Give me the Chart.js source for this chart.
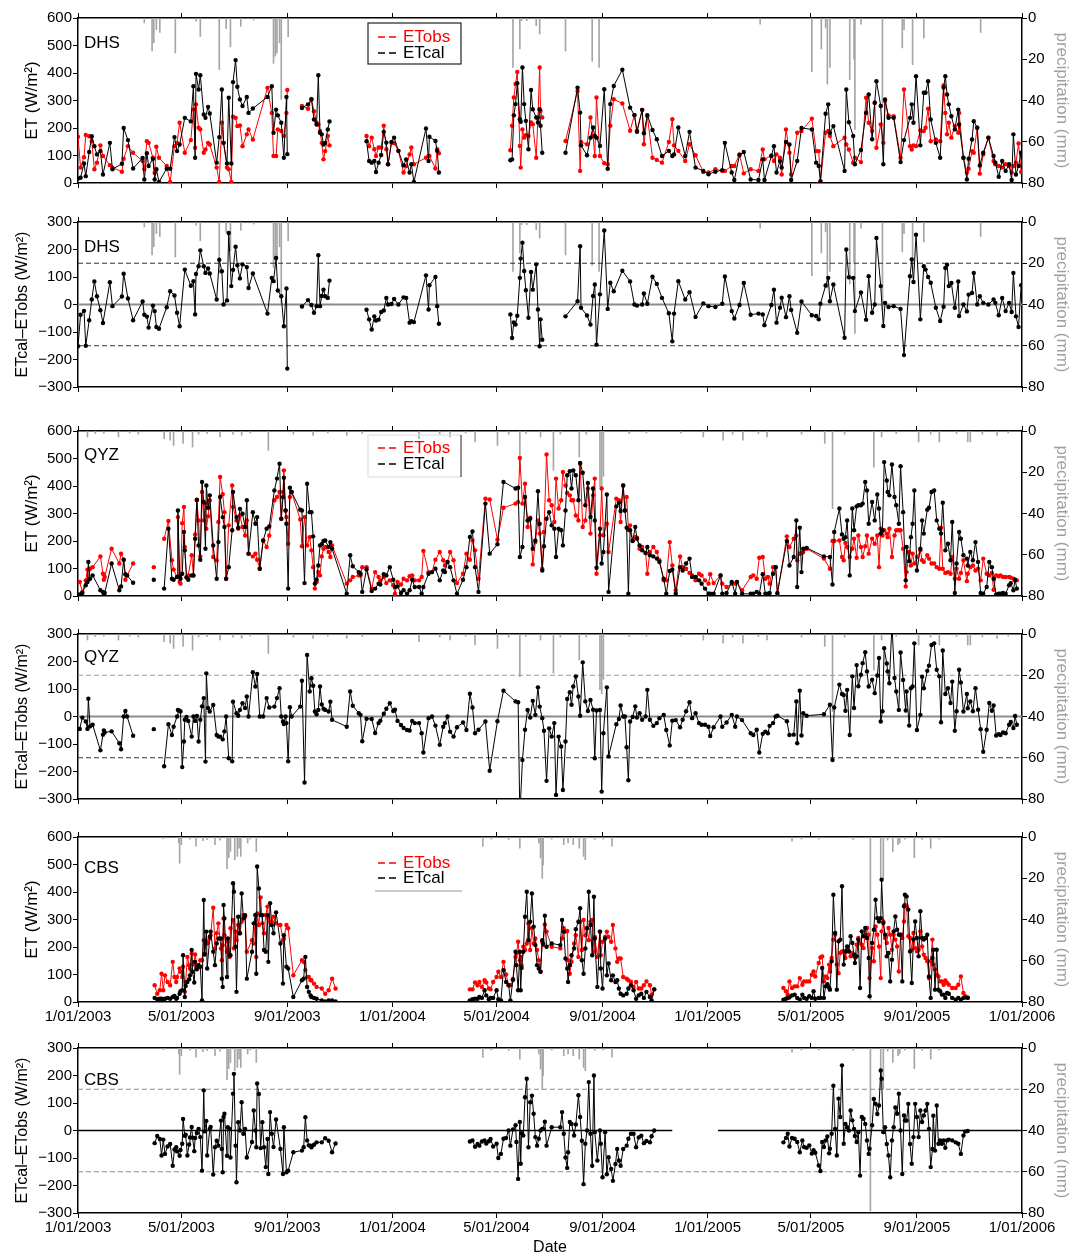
<!DOCTYPE html>
<html lang="en">
<head>
  <meta charset="UTF-8">
  <title>ETobs / ETcal - DHS, QYZ, CBS</title>
  <script src="https://cdn.jsdelivr.net/npm/chart.js"></script>
  <style>
    body { margin: 0; background: #fff; }
    #page { position: relative; width: 1072px; height: 1255px; background: #fff; overflow: hidden; }
    #page canvas { position: absolute; left: 0; }
  </style>
</head>
<body>
  <div id="page"></div>
  <script>
    // x axis: days since 1/01/2003
    const DATE_TICKS = [0, 120, 243, 365, 486, 609, 731, 851, 974, 1096];
    const DATE_LABELS = ['1/01/2003', '5/01/2003', '9/01/2003', '1/01/2004', '5/01/2004',
                         '9/01/2004', '1/01/2005', '5/01/2005', '9/01/2005', '1/01/2006'];
    const LEGEND_LABELS = ['ETobs', 'ETcal'];

    // DHS
    const dhsDays = [
      0, 3, 7, 9, 13, 16, 19, 22, 26, 29,
      37, 40, 51, 53, 58, 64, 75, 77, 80, 82,
      87, 89, 91, 94, 103, 107, 112, 115, 118, 124,
      131, 134, 136, 137, 140, 142, 146, 148, 151, 153,
      161, 164, 167, 169, 173, 175, 178, 180, 183, 185,
      188, 191, 196, 198, 203, 220, 225, 227, 230, 232,
      236, 239, 242, 243, 250, 260, 267, 271, 274, 277,
      279, 281, 283, 285, 287, 290, 292, 315, 335, 338,
      341, 344, 346, 349, 352, 355, 358, 360, 364, 367,
      372, 378, 381, 385, 387, 390, 404, 407, 408, 415,
      417, 419, 460, 502, 504, 506, 508, 510, 513, 514,
      516, 518, 520, 523, 526, 528, 532, 534, 536, 537,
      539, 552, 566, 580, 583, 584, 591, 595, 598, 600,
      602, 606, 611, 615, 618, 622, 632, 641, 646, 649,
      655, 657, 661, 667, 672, 678, 686, 690, 692, 697,
      705, 710, 717, 726, 732, 740, 748, 751, 759, 762,
      768, 773, 781, 790, 795, 797, 805, 808, 811, 815,
      817, 822, 826, 828, 835, 840, 852, 857, 860, 862,
      868, 871, 873, 877, 890, 892, 895, 900, 902, 909,
      915, 918, 922, 925, 927, 932, 935, 937, 941, 947,
      955, 959, 966, 968, 970, 973, 978, 982, 984, 987,
      990, 996, 1001, 1005, 1007, 1009, 1011, 1014, 1018, 1022,
      1023, 1028, 1032, 1034, 1038, 1040, 1044, 1047, 1051, 1057,
      1063, 1065, 1069, 1073, 1077, 1081, 1084, 1086, 1089, 1092,
      1095
    ];
    const dhsObs = [
      168, 56, 94, 175, 170, 152, 50, 74, 137, 98,
      65, 56, 41, 88, 134, 110, 80, 50, 152, 146,
      92, 37, 132, 92, 62, 4, 134, 146, 219, 110,
      156, 267, 128, 286, 201, 195, 110, 122, 146, 140,
      56, 4, 219, 146, 56, 50, 4, 241, 237, 207,
      209, 134, 177, 195, 158, 346, 255, 98, 98, 195,
      189, 171, 255, 338, null, 280, 270, 306, 261, 219,
      213, 189, 146, 86, 116, 171, 137, null, 171, 134,
      165, 123, 98, 129, 129, 208, 123, 68, 147, 145,
      117, 38, 62, 104, 129, 68, 92, 98, 98, 53,
      123, 108, null, 119, 208, 311, 360, 404, 135, 56,
      195, 165, 174, 171, 220, 214, 92, 238, 420, 262,
      238, null, 153, 335, 44, 149, 141, 238, 171, 98,
      311, 98, 72, 68, 208, 305, 289, 190, 247, 190,
      266, 141, 244, 92, 84, 74, 149, 232, 137, 117,
      80, 141, 101, 40, 38, 50, 44, 44, 62, 62,
      104, 35, 50, 44, 122, 86, 100, 80, 104, 92,
      31, 195, 110, 31, 183, 189, 234, 116, 116, 4,
      183, 189, 171, 134, 165, 140, 122, 74, 92, 76,
      310, 219, 189, 292, 128, 213, 146, 298, 246, 243,
      92, 340, 134, 122, 137, 134, 191, 189, 201, 270,
      152, 158, 152, 355, 255, 177, 219, 165, 207, 183,
      255, 92, 38, 52, 116, 110, 201, 34, 104, 165,
      80, 68, 62, 56, 68, 62, 38, 62, 74, 144,
      40
    ];
    const dhsCal = [
      16, 19, 71, 25, 113, 170, 134, 104, 116, 31,
      146, 50, 70, 200, 156, 53, 91, 13, 108, 62,
      88, 13, 50, 4, 52, 52, 167, 116, 140, 237,
      224, 352, 92, 397, 340, 392, 249, 237, 277, 253,
      74, 167, 340, 146, 71, 310, 71, 367, 447, 350,
      304, 280, 313, 255, 271, 313, 352, 183, 267, 246,
      219, 92, 313, 105, null, 273, 286, 304, 231, 213,
      392, 183, 177, 140, 146, 195, 224, null, 152, 80,
      74, 80, 40, 74, 102, 186, 147, 68, 149, 165,
      117, 64, 86, 38, 68, 4, 198, 80, 168, 153,
      117, 38, null, 83, 86, 246, 287, 363, 232, 223,
      420, 287, 226, 123, 338, 268, 238, 220, 268, 208,
      110, null, 110, 347, 256, 137, 101, 165, 202, 171,
      165, 135, 341, 52, 287, 353, 412, 274, 247, 186,
      266, 181, 247, 193, 159, 98, 117, 98, 104, 202,
      98, 186, 56, 44, 32, 41, 47, 146, 38, 11,
      102, 113, 13, 11, 86, 11, 98, 134, 38, 80,
      56, 149, 140, 11, 80, 200, 195, 74, 62, 7,
      252, 286, 183, 207, 44, 340, 221, 171, 68, 120,
      255, 322, 159, 292, 370, 280, 68, 304, 237, 237,
      76, 156, 237, 286, 219, 388, 137, 328, 328, 370,
      231, 146, 92, 347, 388, 322, 286, 243, 195, 267,
      213, 92, 13, 88, 158, 225, 201, 64, 110, 165,
      98, 74, 23, 80, 44, 68, 11, 177, 31, 62,
      110
    ];
    const dhsRainDays = [77, 86, 88, 91, 95, 113, 137, 142, 164, 172, 177, 189, 204, 227, 229,
      231, 234, 236, 244, 505, 513, 515, 521, 532, 536, 566, 597, 605, 792, 852,
      863, 868, 870, 873, 896, 901, 902, 909, 934, 957, 959, 969, 982, 1048];
    const dhsRain = [2.4, 16, 12, 5.6, 7, 17, 1.5, 9, 25, 5, 14, 4, 1, 22, 18.5,
      17, 12, 39.5, 9, 24, 15, 1.3, 1.3, 3.7, 7.8, 16, 21, 24, 3, 26,
      15, 4.8, 32, 24, 30, 20, 54, 3, 43, 14.5, 5.6, 22.6, 9.7, 7];

    // QYZ
    const qyzDays = [
      2, 5, 9, 11, 12, 14, 17, 26, 29, 30,
      31, 39, 48, 50, 53, 55, 57, 64, 75, 88,
      94, 100, 105, 109, 111, 115, 116, 118, 119, 121,
      123, 124, 126, 128, 132, 134, 136, 138, 140, 142,
      144, 146, 148, 149, 151, 153, 157, 161, 163, 165,
      168, 170, 172, 175, 179, 180, 184, 186, 188, 191,
      194, 196, 198, 203, 206, 208, 211, 215, 219, 222,
      228, 231, 234, 236, 238, 239, 241, 242, 244, 246,
      248, 258, 260, 263, 266, 269, 271, 273, 275, 277,
      279, 281, 283, 285, 287, 291, 293, 295, 312, 316,
      319, 326, 328, 330, 335, 341, 345, 349, 351, 355,
      358, 362, 366, 368, 371, 375, 378, 382, 385, 388,
      391, 396, 399, 401, 407, 411, 415, 420, 424, 426,
      429, 432, 436, 440, 447, 451, 455, 458, 461, 465,
      473, 478, 487, 494, 508, 511, 513, 516, 519, 522,
      525, 528, 531, 534, 536, 539, 541, 544, 547, 550,
      553, 555, 558, 561, 563, 566, 568, 571, 573, 575,
      578, 581, 583, 586, 589, 592, 595, 598, 600, 602,
      606, 608, 610, 614, 616, 625, 628, 630, 633, 635,
      637, 639, 641, 644, 647, 649, 652, 655, 659, 661,
      664, 668, 672, 675, 680, 683, 687, 690, 694, 699,
      702, 706, 710, 713, 717, 721, 724, 728, 732, 734,
      738, 746, 748, 753, 759, 763, 765, 771, 781, 784,
      788, 791, 795, 798, 801, 803, 807, 810, 812, 823,
      826, 831, 834, 835, 838, 840, 842, 846, 866, 873,
      876, 878, 884, 887, 889, 891, 893, 896, 899, 901,
      904, 906, 909, 911, 914, 916, 918, 922, 925, 928,
      930, 932, 934, 936, 939, 940, 942, 945, 948, 950,
      953, 955, 958, 961, 962, 965, 967, 969, 971, 974,
      978, 980, 982, 986, 988, 991, 994, 997, 1000, 1002,
      1004, 1007, 1010, 1013, 1015, 1018, 1020, 1023, 1025, 1028,
      1032, 1033, 1036, 1039, 1042, 1045, 1048, 1051, 1055, 1058,
      1061, 1063, 1066, 1069, 1071, 1074, 1077, 1081, 1083, 1086,
      1088, 1090
    ];
    const qyzObs = [
      51, 15, 57, 96, 59, 99, 105, 144, 81, 59,
      69, 172, 118, 154, 132, 59, 75, 118, null, 105,
      null, 208, 273, 130, 96, 69, 287, 51, 45, 265,
      324, 178, 69, 75, 148, 75, 224, 348, 275, 144,
      378, 275, 336, 245, 290, 348, 142, 130, 269, 433,
      370, 305, 63, 257, 402, 324, 275, 245, 293, 251,
      220, 275, 154, 144, 154, 132, 99, 202, 178, 220,
      348, 360, 378, 281, 378, 457, 311, 287, 190, 360,
      378, 278, 181, 287, 184, 214, 166, 105, 27, 51,
      87, 75, 144, 172, 178, 160, 142, 184, 45, 57,
      69, 75, 75, 105, 105, 27, 87, 69, 57, 69,
      47, 57, 39, 8, 51, 42, 63, 57, 72, 75,
      57, 57, 69, 164, 87, 87, 132, 160, 130, 111,
      124, 160, 130, 47, 81, 154, 132, 202, 166, 63,
      354, 351, 205, 321, 336, 342, 502, 336, 408, 251,
      285, 115, 196, 275, 227, 99, 233, 515, 348, 330,
      269, 427, 318, 348, 451, 402, 375, 366, 348, 348,
      293, 275, 481, 251, 275, 391, 227, 366, 427, 81,
      221, 391, 221, 263, 160, 354, 348, 269, 402, 311,
      360, 240, 257, 202, 214, 212, 172, 178, 156, 81,
      160, 178, 160, 130, 57, 57, 196, 111, 21, 144,
      105, 99, 84, 75, 57, 81, 75, 57, 45, 79,
      47, 75, 45, 33, 45, 45, 51, 21, 69, 75,
      63, 139, 142, 63, 69, 45, 105, 105, 8, 217,
      178, 208, 220, 130, 154, 156, 160, 172, 136, 99,
      200, 200, 202, 142, 130, 193, 178, 142, 172, 208,
      139, 220, 178, 142, 181, 220, 154, 208, 190, 220,
      105, 245, 220, 239, 227, 214, 245, 142, 220, 239,
      239, 239, 172, 35, 87, 160, 111, 154, 118, 142,
      166, 130, 124, 148, 136, 118, 118, 105, 99, 248,
      99, 84, 87, 81, 142, 63, 99, 63, 84, 130,
      54, 81, 105, 111, 93, 99, 57, 136, 81, 75,
      84, 23, 75, 72, 75, 69, 69, 69, 67, 63,
      57, 57
    ];
    const qyzCal = [
      6, 11, 39, 51, 124, 63, 75, 21, 15, 8,
      11, 118, 21, 35, 132, 79, 75, 48, null, 59,
      null, 27, 245, 63, 59, 69, 311, 72, 63, 81,
      233, 166, 67, 59, 75, 75, 208, 350, 184, 132,
      415, 342, 172, 402, 321, 366, 184, 63, 196, 360,
      287, 251, 63, 105, 239, 378, 287, 248, 317, 299,
      251, 348, 154, 305, 263, 287, 99, 202, 245, 253,
      384, 427, 481, 281, 360, 430, 311, 263, 27, 394,
      378, 314, 311, 47, 408, 305, 305, 217, 45, 59,
      111, 184, 188, 200, 202, 178, 196, 172, 8, 148,
      108, 87, 81, 15, 97, 18, 27, 45, 42, 79,
      75, 105, 59, 33, 35, 11, 21, 8, 21, 59,
      33, 33, 8, 33, 81, 87, 99, 57, 93, 87,
      124, 105, 57, 8, 59, 105, 215, 235, 105, 15,
      336, 154, 188, 415, 391, 394, 142, 178, 360, 275,
      281, 172, 202, 381, 263, 93, 181, 281, 305, 257,
      245, 142, 245, 239, 184, 311, 439, 454, 391, 457,
      439, 348, 484, 448, 330, 411, 287, 391, 275, 103,
      245, 118, 160, 369, 15, 326, 339, 309, 402, 311,
      248, 8, 239, 200, 251, 208, 184, 166, 156, 178,
      148, 144, 136, 124, 63, 8, 91, 96, 8, 105,
      93, 118, 136, 69, 69, 57, 45, 27, 8, 8,
      8, 75, 8, 11, 51, 8, 51, 8, 8, 8,
      15, 8, 79, 8, 8, 11, 81, 105, 11, 200,
      111, 142, 275, 33, 248, 87, 172, 175, 144, 142,
      42, 233, 318, 224, 208, 214, 275, 75, 318, 239,
      326, 330, 330, 336, 415, 384, 263, 342, 275, 369,
      318, 227, 239, 487, 420, 378, 366, 478, 360, 330,
      263, 472, 305, 57, 178, 127, 214, 263, 384, 93,
      172, 275, 227, 314, 321, 378, 384, 275, 245, 227,
      339, 166, 190, 130, 269, 11, 118, 233, 208, 148,
      136, 111, 160, 130, 196, 124, 11, 8, 33, 124,
      105, 63, 6, 8, 8, 11, 8, 39, 47, 21,
      59, 27
    ];
    const qyzRainDays = [11, 20, 30, 47, 60, 70, 100, 107, 111, 122, 133, 140, 150, 165, 180,
      190, 200, 221, 250, 273, 290, 312, 330, 396, 420, 432, 450, 461, 487, 500,
      513, 520, 537, 552, 560, 582, 590, 606, 608, 610, 640, 660, 700, 726, 749,
      760, 772, 790, 800, 840, 867, 876, 890, 924, 933, 950, 976, 990, 1000, 1020,
      1033, 1036, 1050, 1067, 1080];
    const qyzRain = [2.9, 1.2, 1, 2.9, 1, 1.5, 3.7, 4.5, 7, 6, 7.8, 1.5, 1.2, 2.9, 1.5,
      2.1, 1, 9.4, 1.5, 2.1, 1, 2.1, 1.2, 3.7, 1.5, 2.9, 1, 5.3, 7, 1.5,
      20.7, 1.2, 2.9, 19, 1.5, 12.6, 1.5, 27, 29, 22, 1.2, 1, 1, 2.9, 4.5,
      1.5, 4.5, 1.2, 2.9, 1.5, 6, 37.6, 1.5, 17.5, 2.9, 1.2, 5.3, 1.5, 5.3, 1.2,
      5.3, 5.3, 1.5, 2.1, 1];

    // CBS
    const cbsDays = [
      89, 92, 95, 97, 99, 101, 104, 107, 110, 112,
      114, 115, 118, 119, 121, 122, 124, 125, 127, 129,
      130, 132, 133, 135, 136, 138, 140, 142, 144, 146,
      147, 149, 150, 153, 154, 157, 159, 161, 163, 166,
      167, 168, 169, 170, 173, 174, 176, 177, 180, 181,
      183, 184, 186, 188, 190, 192, 194, 196, 202, 204,
      206, 207, 208, 210, 212, 214, 216, 218, 220, 221,
      223, 225, 227, 230, 235, 238, 239, 242, 244, 250,
      260, 262, 264, 266, 268, 270, 271, 274, 277, 283,
      287, 291, 295, 299, 370, 455, 458, 461, 464, 466,
      469, 472, 474, 477, 479, 482, 486, 488, 491, 494,
      497, 500, 502, 505, 508, 509, 511, 513, 514, 515,
      517, 519, 521, 523, 525, 527, 529, 531, 533, 535,
      537, 539, 540, 542, 544, 550, 560, 562, 564, 566,
      568, 569, 571, 573, 576, 578, 581, 583, 585, 587,
      589, 591, 593, 595, 597, 599, 600, 603, 606, 607,
      609, 612, 614, 616, 619, 621, 624, 626, 628, 630,
      633, 637, 639, 642, 645, 648, 651, 654, 657, 660,
      664, 666, 669, 740, 819, 822, 824, 826, 829, 832,
      835, 838, 841, 843, 846, 849, 852, 854, 856, 860,
      862, 864, 866, 868, 870, 872, 873, 875, 877, 879,
      881, 883, 885, 887, 889, 891, 893, 895, 897, 899,
      901, 902, 904, 906, 908, 910, 912, 914, 916, 918,
      919, 922, 924, 926, 928, 930, 932, 933, 935, 937,
      939, 941, 943, 945, 947, 949, 951, 953, 955, 957,
      959, 960, 962, 964, 966, 968, 970, 972, 974, 976,
      978, 980, 982, 984, 986, 988, 990, 992, 993, 995,
      997, 999, 1001, 1003, 1005, 1007, 1009, 1011, 1015, 1019,
      1022, 1025, 1028, 1030, 1033
    ];
    const cbsObs = [
      61, 30, 43, 103, 43, 97, 73, 61, 146, 91,
      73, 91, 122, 110, 91, 128, 37, 73, 164, 134,
      122, 176, 136, 146, 173, 128, 128, 152, 152, 225,
      176, 221, 213, 231, 243, 343, 195, 250, 286, 195,
      152, 207, 304, 243, 183, 219, 164, 268, 298, 195,
      256, 225, 280, 250, 292, 316, 310, 183, 225, 213,
      316, 164, 322, 280, 380, 286, 250, 316, 347, 304,
      292, 292, 310, 286, 280, 225, 231, 280, 268, 97,
      152, 146, 116, 91, 91, 79, 79, 67, 55, 49,
      30, 43, 85, 49, null, 46, 46, 71, 61, 73,
      55, 79, 71, 49, 46, 73, 91, 110, 91, 146,
      100, 61, 61, 79, 164, 176, 219, 152, 164, 134,
      201, 189, 213, 286, 189, 268, 213, 231, 189, 152,
      110, 219, 207, 282, 256, 201, 195, 231, 268, 256,
      258, 152, 103, 146, 213, 243, 164, 292, 189, 298,
      243, 268, 225, 292, 298, 183, 237, 164, 256, 170,
      219, 237, 256, 237, 219, 280, 195, 146, 158, 158,
      91, 85, 79, 73, 55, 73, 49, 49, 61, 75,
      61, 27, 46, null, 51, 39, 27, 75, 51, 57,
      57, 87, 63, 75, 75, 75, 99, 111, 93, 142,
      162, 166, 75, 93, 87, 136, 111, 160, 227, 245,
      136, 105, 178, 184, 184, 160, 190, 184, 166, 178,
      166, 162, 208, 233, 215, 208, 196, 245, 269, 245,
      87, 196, 148, 275, 245, 202, 87, 257, 293, 233,
      215, 269, 245, 190, 245, 227, 202, 111, 245, 233,
      293, 354, 348, 239, 233, 190, 251, 196, 184, 190,
      257, 202, 172, 160, 148, 87, 148, 227, 136, 118,
      99, 93, 75, 75, 63, 78, 69, 63, 51, 51,
      63, 93, 33, 21, 17
    ];
    const cbsCal = [
      15, 10, 12, 12, 10, 12, 15, 12, 18, 22,
      12, 15, 30, 39, 43, 170, 18, 58, 73, 83,
      97, 189, 110, 71, 146, 119, 134, 128, 6, 371,
      173, 256, 122, 237, 256, 183, 134, 213, 231, 231,
      85, 55, 353, 304, 91, 231, 170, 170, 432, 401,
      201, 37, 310, 250, 395, 304, 316, 85, 183, 286,
      316, 103, 493, 413, 316, 316, 189, 183, 316, 146,
      359, 280, 250, 326, 213, 67, 243, 128, 122, 18,
      79, 85, 164, 55, 37, 24, 18, 15, 12, 6,
      2, 6, 6, 2, null, 6, 10, 12, 12, 18,
      15, 43, 24, 10, 15, 15, 43, 10, 6, 116,
      73, 61, 6, 83, 183, 134, 43, 183, 43, 124,
      183, 310, 401, 225, 292, 395, 274, 207, 134, 122,
      110, 225, 213, 314, 201, 213, 207, 298, 256, 158,
      122, 73, 134, 170, 195, 265, 292, 341, 152, 103,
      195, 268, 401, 280, 170, 383, 231, 55, 256, 122,
      49, 231, 97, 140, 79, 97, 73, 79, 49, 30,
      24, 30, 49, 61, 43, 12, 24, 30, 15, 37,
      18, 6, 46, null, 8, 12, 15, 17, 24, 27,
      15, 8, 27, 15, 12, 21, 15, 39, 12, 15,
      15, 124, 15, 57, 65, 53, 45, 148, 390, 251,
      45, 221, 227, 421, 136, 184, 202, 184, 239, 215,
      172, 142, 166, 227, 51, 257, 239, 269, 233, 160,
      21, 215, 263, 372, 305, 293, 305, 445, 287, 245,
      166, 178, 75, 154, 257, 311, 263, 245, 245, 75,
      348, 390, 384, 336, 184, 69, 227, 293, 233, 166,
      330, 233, 227, 233, 245, 93, 15, 160, 190, 45,
      190, 45, 39, 27, 27, 15, 33, 30, 15, 8,
      15, 8, 15, 17, 15
    ];
    const cbsRainDays = [99, 117, 118, 120, 130, 137, 145, 150, 159, 165, 173, 175, 177, 182, 185,
      187, 189, 197, 200, 207, 470, 480, 500, 513, 535, 537, 539, 540, 550, 564,
      569, 575, 582, 587, 589, 600, 610, 620, 829, 840, 860, 900, 920, 932, 935,
      940, 946, 952, 954, 960, 971, 980, 990, 1000];
    const cbsRain = [0.8, 2.9, 12.7, 3.7, 1, 4.5, 1.8, 1.2, 3.7, 1.5, 15.4, 10, 7, 11, 9.4,
      5.4, 9.4, 2.9, 1, 7, 4.5, 1, 1.2, 5.4, 2.9, 10.2, 20, 13.5, 1, 3.7,
      2.9, 3.7, 5.4, 9.4, 11, 1.2, 1, 4.5, 2, 1, 1, 1.2, 79, 20, 20,
      1.5, 7, 3.7, 2.9, 1, 10, 1.2, 5.4, 1];

    // reference lines of the difference panels
    const REF_X = [0, 1096];
    const REF_LIMIT = 150;
    const CBS_ZERO_X = [0, 690, 716, 743, 1096];
    const CBS_ZERO_Y = [0, 0, null, 0, 0];

    const FONT = '"Liberation Sans", Arial, Helvetica, sans-serif';
    Chart.defaults.font.family = FONT;
    Chart.defaults.color = '#000';

    function pts(xs, ys) {
      return xs.map((x, i) => ({ x: x, y: ys[i] }));
    }
    function diffOf(obs, cal) {
      return cal.map((c, i) => (c === null || obs[i] === null) ? null : c - obs[i]);
    }

    const SITES = {
      DHS: { days: dhsDays, obs: dhsObs, cal: dhsCal, rainDays: dhsRainDays, rain: dhsRain },
      QYZ: { days: qyzDays, obs: qyzObs, cal: qyzCal, rainDays: qyzRainDays, rain: qyzRain },
      CBS: { days: cbsDays, obs: cbsObs, cal: cbsCal, rainDays: cbsRainDays, rain: cbsRain }
    };

    // layout of the six panels (plot area top in page pixels)
    const PLOT_H = 165;
    const TOP_PAD = 12;
    const PANELS = [
      { top: 18, kind: 'et', site: 'DHS', siteDy: 25, legend: 'box', bottomH: 6, padBottom: 4 },
      { top: 222, kind: 'diff', site: 'DHS', siteDy: 25, bottomH: 6, padBottom: 4,
        zero: { color: '#8c8c8c', width: 2 }, up: '#333', down: '#333' },
      { top: 431, kind: 'et', site: 'QYZ', siteDy: 24, legend: 'side', bottomH: 6, padBottom: 4 },
      { top: 634, kind: 'diff', site: 'QYZ', siteDy: 23, bottomH: 6, padBottom: 4,
        zero: { color: '#8c8c8c', width: 2 }, up: '#9a9a9a', down: '#333' },
      { top: 837, kind: 'et', site: 'CBS', siteDy: 31, legend: 'under', bottomH: 30, padBottom: 0, xLabels: true },
      { top: 1048, kind: 'diff', site: 'CBS', siteDy: 32, bottomH: 44, padBottom: 0, xLabels: true, xTitle: true,
        zero: { color: '#000', width: 1.3, gap: true }, up: '#8a8a8a', down: '#8a8a8a' }
    ];

    function drawLegend(ctx, a, mode) {
      const x0 = a.left + 290, x1 = a.left + 383;
      const rows = mode === 'box' ? [19, 35] : mode === 'side' ? [17, 33] : [26, 41];
      const colors = ['#f00', '#000'];
      ctx.lineWidth = 1.2;
      if (mode === 'box') {
        ctx.strokeStyle = '#222';
        ctx.strokeRect(x0, a.top + 5, x1 - x0, 41);
      } else if (mode === 'side') {
        ctx.strokeStyle = '#e2e2e2';
        ctx.strokeRect(x0, a.top + 4, x1 - x0, 42);
        ctx.strokeStyle = '#555';
        ctx.beginPath(); ctx.moveTo(x1, a.top + 4); ctx.lineTo(x1, a.top + 46); ctx.stroke();
      } else {
        ctx.strokeStyle = '#9a9a9a';
        ctx.beginPath(); ctx.moveTo(x0 + 7, a.top + 54); ctx.lineTo(x1 + 1, a.top + 54); ctx.stroke();
      }
      ctx.font = '17px ' + FONT;
      ctx.textBaseline = 'middle';
      LEGEND_LABELS.forEach((label, i) => {
        const y = a.top + rows[i];
        ctx.strokeStyle = colors[i];
        ctx.lineWidth = 1.6;
        ctx.setLineDash([7, 4]);
        ctx.beginPath(); ctx.moveTo(x0 + 10, y); ctx.lineTo(x0 + 28, y); ctx.stroke();
        ctx.setLineDash([]);
        ctx.fillStyle = colors[i];
        ctx.fillText(label, x0 + 35, y);
      });
    }

    const panelText = {
      id: 'panelText',
      afterDraw(chart, args, o) {
        const { ctx, chartArea: a } = chart;
        ctx.save();
        ctx.font = '17px ' + FONT;
        ctx.fillStyle = '#000';
        ctx.textBaseline = 'middle';
        ctx.fillText(o.site, a.left + 6, a.top + o.siteDy);
        if (o.legend) drawLegend(ctx, a, o.legend);
        ctx.restore();
      }
    };

    function dateTicks(scale) {
      scale.ticks = DATE_TICKS.map(v => ({ value: v }));
    }

    function buildPanel(p) {
      const s = SITES[p.site];
      const page = document.getElementById('page');
      const cv = document.createElement('canvas');
      cv.width = 1072;
      cv.height = TOP_PAD + PLOT_H + p.bottomH + p.padBottom;
      cv.style.top = (p.top - TOP_PAD) + 'px';
      page.appendChild(cv);

      const datasets = [];
      const pointStyle = { borderWidth: 1, pointRadius: 2.2, pointBorderWidth: 0, pointHoverRadius: 2.2 };
      if (p.kind === 'et') {
        datasets.push(Object.assign({ label: 'ETcal', data: pts(s.days, s.cal), borderColor: '#000',
          backgroundColor: '#000', order: 1, yAxisID: 'y' }, pointStyle));
        datasets.push(Object.assign({ label: 'ETobs', data: pts(s.days, s.obs), borderColor: '#f00',
          backgroundColor: '#f00', order: 2, yAxisID: 'y' }, pointStyle));
      } else {
        datasets.push(Object.assign({ label: 'ETcal-ETobs', data: pts(s.days, diffOf(s.obs, s.cal)),
          borderColor: '#000', backgroundColor: '#000', order: 1, yAxisID: 'y' }, pointStyle));
        const zx = p.zero.gap ? CBS_ZERO_X : REF_X;
        const zy = p.zero.gap ? CBS_ZERO_Y : REF_X.map(() => 0);
        datasets.push({ data: pts(zx, zy), borderColor: p.zero.color, borderWidth: p.zero.width,
          pointRadius: 0, order: 8, yAxisID: 'y' });
        datasets.push({ data: pts(REF_X, REF_X.map(() => REF_LIMIT)), borderColor: p.up, borderWidth: 1,
          borderDash: [5, 3], pointRadius: 0, order: 8, yAxisID: 'y' });
        datasets.push({ data: pts(REF_X, REF_X.map(() => -REF_LIMIT)), borderColor: p.down, borderWidth: 1,
          borderDash: [5, 3], pointRadius: 0, order: 8, yAxisID: 'y' });
      }
      datasets.push({ type: 'bar', label: 'precipitation', data: pts(s.rainDays, s.rain),
        backgroundColor: '#a6a6a6', barThickness: 1, grouped: false, order: 10,
        xAxisID: 'x', yAxisID: 'yp' });

      const isEt = p.kind === 'et';
      const tickFont = { family: FONT, size: 15 };
      const frame = { display: true, color: '#000', width: 1.5 };
      const marks = { drawOnChartArea: false, tickLength: 5, color: '#000', offset: false };

      new Chart(cv.getContext('2d'), {
        type: 'line',
        data: { datasets: datasets },
        options: {
          responsive: false,
          animation: false,
          devicePixelRatio: 1,
          layout: { padding: { top: 6, left: 0, right: 0, bottom: p.padBottom } },
          plugins: {
            legend: { display: false },
            tooltip: { enabled: false },
            panelText: { site: p.site, siteDy: p.siteDy, legend: p.legend }
          },
          scales: {
            x: {
              type: 'linear', position: 'bottom', min: 0, max: 1096, offset: false,
              afterBuildTicks: dateTicks,
              afterFit: sc => { sc.height = p.bottomH; },
              grid: marks, border: frame,
              ticks: {
                display: !!p.xLabels, autoSkip: false, maxRotation: 0, padding: 1,
                font: tickFont, color: '#000',
                callback: v => { const i = DATE_TICKS.indexOf(v); return i >= 0 ? DATE_LABELS[i] : ''; }
              },
              title: { display: !!p.xTitle, text: 'Date', font: { family: FONT, size: 16 },
                color: '#000', padding: { top: 0, bottom: 0 } }
            },
            xt: {
              type: 'linear', position: 'top', min: 0, max: 1096, offset: false,
              afterBuildTicks: dateTicks,
              afterFit: sc => { sc.height = 6; },
              grid: marks, border: frame,
              ticks: { display: false }
            },
            y: {
              type: 'linear', position: 'left',
              min: isEt ? 0 : -300, max: isEt ? 600 : 300,
              afterFit: sc => { sc.width = 78; },
              grid: marks, border: frame,
              ticks: { stepSize: 100, padding: 1, font: tickFont, color: '#000',
                callback: v => v < 0 ? '\u2212' + (-v) : String(v) },
              title: {
                display: true,
                text: isEt ? 'ET (W/m\u00b2)' : 'ETcal\u2013ETobs (W/m\u00b2)',
                font: { family: FONT, size: isEt ? 17 : 16 },
                color: '#000',
                padding: { top: isEt ? 22 : 13, bottom: 0 }
              }
            },
            yp: {
              type: 'linear', position: 'right', min: 0, max: 80, reverse: true,
              afterFit: sc => { sc.width = 50; },
              grid: marks, border: frame,
              ticks: { stepSize: 20, padding: 1, font: tickFont, color: '#000' },
              title: { display: true, text: 'precipitation (mm)', font: { family: FONT, size: 17 },
                color: '#a0a0a0', padding: { top: 0, bottom: 0 } }
            }
          }
        },
        plugins: [panelText]
      });
    }

    PANELS.forEach(buildPanel);
  </script>
</body>
</html>
